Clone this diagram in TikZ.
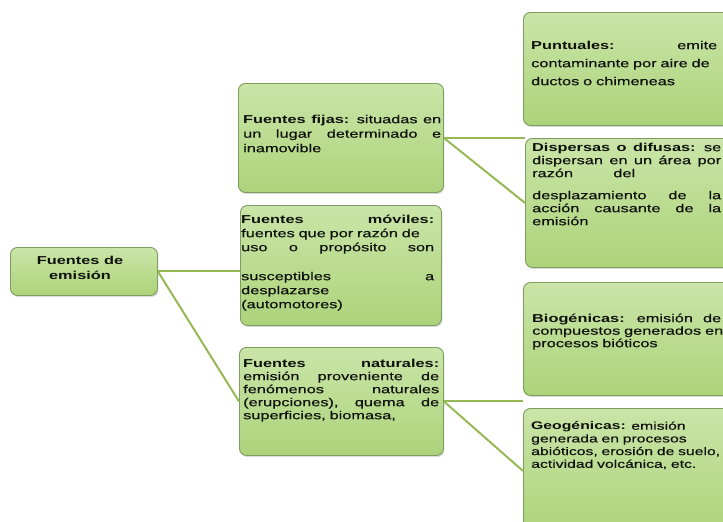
\documentclass[tikz,border=0pt]{standalone}
\usepackage{fontspec}
\setmainfont{Liberation Sans}[FakeStretch=1.42, UprightFeatures={FakeBold=0.4}]
\usetikzlibrary{shadows}
\definecolor{boxtop}{RGB}{202,229,168}
\definecolor{boxbot}{RGB}{172,211,122}
\definecolor{boxline}{RGB}{128,156,96}
\definecolor{connc}{RGB}{150,185,85}
\definecolor{inkc}{RGB}{15,17,13}
\newcommand{\jl}[2]{\leavevmode\hbox to #1{#2}}
\newcommand{\fs}{\leavevmode\rule{0pt}{11pt}}
\newcommand{\g}{ \hfill }
\begin{document}
\begin{tikzpicture}[x=1pt,y=-1pt,
  box/.style={draw=boxline, line width=0.9pt, rounded corners=7pt, top color=boxtop, bottom color=boxbot,
    drop shadow={opacity=0.3, shadow xshift=1pt, shadow yshift=-1.5pt}, anchor=north west, inner sep=0pt},
  txt/.style={anchor=north west, inner sep=0pt, align=left, text=inkc},
  connector/.style={draw=connc, line width=2pt}]
\useasboundingbox (0,0) rectangle (723,522);
\clip (0,0) rectangle (723,522);

% boxes
\node[box, minimum width=147pt, minimum height=48pt] (root) at (10,247) {};
\node[box, minimum width=205pt, minimum height=109pt] (fij) at (238,83) {};
\node[box, minimum width=201pt, minimum height=120pt] (mov) at (240,205) {};
\node[box, minimum width=204pt, minimum height=108pt] (nat) at (239,347) {};
\node[box, minimum width=220pt, minimum height=113pt] (pun) at (523,12) {};
\node[box, minimum width=220pt, minimum height=129pt] (disp) at (525,138) {};
\node[box, minimum width=220pt, minimum height=113pt] (bio) at (523,282) {};
\node[box, minimum width=220pt, minimum height=125pt] (geo) at (523,408) {};

% connectors
\draw[connector] (root.east) -- (root.east -| mov.west);
\draw[connector] (root.east) -- (nat.west);
\draw[connector] (fij.east) -- (fij.east -| disp.west);
\draw[connector] (fij.east) -- (disp.west);
\draw[connector] (nat.east) -- (nat.east -| geo.west);
\draw[connector] (nat.east) -- (geo.west);

% texts
\node[align=center, inner sep=0pt, text=inkc, font=\bfseries\fontsize{11.5}{15}\selectfont] (troot) at (80,267.5)
  {Fuentes de\\emisión};
\node[txt, text width=198pt, font=\fontsize{11.5}{14.5}\selectfont] (tfij) at (243,112)
  {\fs\jl{198pt}{\textbf{Fuentes\g fijas:}\g situadas\g en}\\\jl{198pt}{un\g lugar\g determinado\g e}\\inamovible};
\node[txt, text width=193pt, font=\fontsize{11.5}{14}\selectfont] (tmov) at (241,212)
  {\fs\jl{193pt}{\textbf{Fuentes\g móviles:}}\\fuentes que por razón de\\\jl{193pt}{uso\g o\g propósito\g son}\\[15pt]\jl{193pt}{susceptibles\g a}\\desplazarse\\(automotores)};
\node[txt, text width=196pt, font=\fontsize{11.5}{13}\selectfont] (tnat) at (243,356)
  {\fs\jl{196pt}{\textbf{Fuentes\g naturales:}}\\\jl{196pt}{emisión\g proveniente\g de}\\\jl{196pt}{fenómenos\g naturales}\\\jl{196pt}{(erupciones),\g quema\g de}\\superficies, biomasa,};
\node[txt, text width=186pt, font=\fontsize{11.5}{18}\selectfont] (tpun) at (531,38)
  {\fs\jl{186pt}{\textbf{Puntuales:}\g emite}\\contaminante por aire de\\ductos o chimeneas};
\node[txt, text width=189pt, font=\fontsize{11.5}{13}\selectfont] (tdisp) at (532,140)
  {\fs\jl{189pt}{\textbf{Dispersas\g o\g difusas:}\g se}\\\jl{189pt}{dispersan\g en\g un\g área\g por}\\\jl{103pt}{razón\g del}\\[9pt]\jl{189pt}{desplazamiento\g de\g la}\\\jl{189pt}{acción\g causante\g de\g la}\\emisión};
\node[txt, text width=189pt, font=\fontsize{11.5}{12.5}\selectfont] (tbio) at (532,311)
  {\fs\jl{189pt}{\textbf{Biogénicas:}\g emisión\g de}\\\jl{189pt}{compuestos\g generados\g en}\\procesos bióticos};
\node[txt, text width=190pt, font=\fontsize{11.1}{12.7}\selectfont] (tgeo) at (531,418.5)
  {\fs\textbf{Geogénicas:} emisión\\generada en procesos\\abióticos, erosión de suelo,\\actividad volcánica, etc.};
\end{tikzpicture}
\end{document}
